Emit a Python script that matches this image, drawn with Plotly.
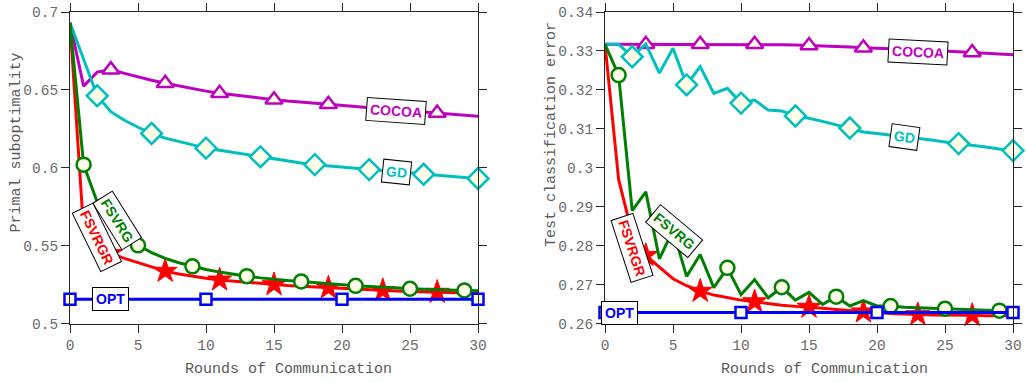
import plotly.graph_objects as go

# Communication rounds
rounds = list(range(31))

# Primal suboptimality per round
cocoa_primal = [0.6931, 0.6524, 0.6614, 0.6630, 0.6606, 0.6583, 0.6562, 0.6543, 0.6525, 0.6508,
                0.6492, 0.6478, 0.6467, 0.6456, 0.6446, 0.6437, 0.6428, 0.6420, 0.6414, 0.6408,
                0.6400, 0.6393, 0.6386, 0.6379, 0.6372, 0.6365, 0.6358, 0.6352, 0.6345, 0.6338, 0.6331]
gd_primal = [0.6931, 0.6700, 0.6462, 0.6360, 0.6305, 0.6260, 0.6220, 0.6190, 0.6168, 0.6145,
             0.6126, 0.6112, 0.6098, 0.6083, 0.6070, 0.6055, 0.6043, 0.6031, 0.6020, 0.6012,
             0.6004, 0.5996, 0.5988, 0.5980, 0.5972, 0.5965, 0.5958, 0.5950, 0.5943, 0.5937, 0.5931]
fsvrg_primal = [0.6931, 0.6020, 0.5780, 0.5640, 0.5560, 0.5502, 0.5455, 0.5418, 0.5390, 0.5367,
                0.5347, 0.5330, 0.5316, 0.5304, 0.5293, 0.5283, 0.5276, 0.5270, 0.5262, 0.5255,
                0.5248, 0.5242, 0.5237, 0.5232, 0.5227, 0.5223, 0.5220, 0.5217, 0.5214, 0.5212, 0.5210]
fsvrgr_primal = [0.6931, 0.5600, 0.5490, 0.5450, 0.5418, 0.5392, 0.5362, 0.5336, 0.5318, 0.5303,
                 0.5290, 0.5280, 0.5272, 0.5264, 0.5257, 0.5250, 0.5244, 0.5239, 0.5234, 0.5229,
                 0.5225, 0.5221, 0.5216, 0.5212, 0.5209, 0.5206, 0.5203, 0.5201, 0.5199, 0.5197, 0.5195]
opt_primal = [0.5155] * 31

# Test classification error per round
cocoa_test = [0.3317, 0.3317, 0.3317, 0.3317, 0.3317, 0.3317, 0.3317, 0.3317, 0.3317, 0.3317,
              0.3317, 0.3317, 0.3317, 0.3316, 0.3315, 0.3314, 0.3313, 0.3311, 0.3310, 0.3308,
              0.3307, 0.3306, 0.3304, 0.3303, 0.3301, 0.3300, 0.3298, 0.3296, 0.3294, 0.3292, 0.3290]
gd_test = [0.3317, 0.3317, 0.3285, 0.3318, 0.3243, 0.3307, 0.3213, 0.3260, 0.3191, 0.3204,
           0.3166, 0.3174, 0.3148, 0.3146, 0.3133, 0.3127, 0.3119, 0.3110, 0.3102, 0.3092,
           0.3088, 0.3084, 0.3080, 0.3076, 0.3071, 0.3066, 0.3062, 0.3057, 0.3053, 0.3048, 0.3044]
fsvrg_test = [0.3317, 0.3238, 0.2890, 0.2938, 0.2766, 0.2840, 0.2721, 0.2777, 0.2692, 0.2743,
              0.2674, 0.2713, 0.2666, 0.2693, 0.2660, 0.2680, 0.2649, 0.2669, 0.2645, 0.2659,
              0.2645, 0.2645, 0.2642, 0.2640, 0.2639, 0.2638, 0.2636, 0.2635, 0.2634, 0.2633, 0.2628]
fsvrgr_test = [0.3317, 0.2970, 0.2830, 0.2775, 0.2745, 0.2715, 0.2697, 0.2683, 0.2673, 0.2666,
               0.2660, 0.2656, 0.2651, 0.2647, 0.2644, 0.2642, 0.2639, 0.2636, 0.2633, 0.2630,
               0.2628, 0.2626, 0.2624, 0.2623, 0.2622, 0.2622, 0.2621, 0.2621, 0.2620, 0.2620, 0.2620]
opt_test = [0.2628] * 31

# Tick labels
x_ticks = [0, 5, 10, 15, 20, 25, 30]
primal_ticks = [0.5, 0.55, 0.6, 0.65, 0.7]
primal_ticktext = ["0.5", "0.55", "0.6", "0.65", "0.7"]
test_ticks = [0.26, 0.27, 0.28, 0.29, 0.30, 0.31, 0.32, 0.33, 0.34]
test_ticktext = ["0.26", "0.27", "0.28", "0.29", "0.3", "0.31", "0.32", "0.33", "0.34"]

W, H = 1026, 383
MONO = "Courier New, Liberation Mono, monospace"
SANS = "Liberation Sans, Arial, sans-serif"
AXIS = "#262626"
FACE = "#FFFFE8"

MAGENTA = "#BF00BF"
CYAN = "#00BFBF"
GREEN = "#007F00"
RED = "#FF0000"
BLUE = "#0000FF"

# series style: name -> (colour, symbol, marker size, first marker index, step)
styles = {
    "COCOA": (MAGENTA, "triangle-up", 15, 3, 4),
    "GD": (CYAN, "diamond", 16, 2, 4),
    "FSVRGR": (RED, "star", 18, 3, 4),
    "FSVRG": (GREEN, "circle", 14, 1, 4),
    "OPT": (BLUE, "square", 11, 0, 10),
}

panels = [
    ("x", "y", {"COCOA": cocoa_primal, "GD": gd_primal, "FSVRGR": fsvrgr_primal,
                "FSVRG": fsvrg_primal, "OPT": opt_primal}),
    ("x2", "y2", {"COCOA": cocoa_test, "GD": gd_test, "FSVRGR": fsvrgr_test,
                  "FSVRG": fsvrg_test, "OPT": opt_test}),
]

fig = go.Figure()
for xa, ya, series in panels:
    for name, vals in series.items():
        col, sym, msize, start, step = styles[name]
        fig.add_trace(go.Scatter(
            x=rounds, y=vals, mode="lines", line=dict(color=col, width=3),
            xaxis=xa, yaxis=ya, showlegend=False, cliponaxis=False, hoverinfo="skip"))
        mx = rounds[start::step]
        my = vals[start::step]
        face = col if name == "FSVRGR" else FACE
        fig.add_trace(go.Scatter(
            x=mx, y=my, mode="markers",
            marker=dict(symbol=sym, size=msize, color=face,
                        line=dict(color=col, width=2.5 if name != "FSVRGR" else 1)),
            xaxis=xa, yaxis=ya, showlegend=False, cliponaxis=False, name=name))

common_axis = dict(showline=True, linecolor=AXIS, linewidth=1, mirror="ticks",
                   ticks="outside", ticklen=8, tickcolor=AXIS, tickwidth=1,
                   showgrid=False, zeroline=False, automargin=False,
                   tickfont=dict(family=MONO, size=14.5, color="#6a6a6a"))

y0 = 1 - 323.5 / H
y1 = 1 - 12 / H
fig.update_layout(
    width=W, height=H, margin=dict(l=0, r=0, t=0, b=0),
    paper_bgcolor="white", plot_bgcolor="white",
    xaxis=dict(domain=[70 / W, 478 / W], range=[0, 30], tickvals=x_ticks, anchor="y", **common_axis),
    yaxis=dict(domain=[y0, y1], range=[0.5, 0.7], tickvals=primal_ticks,
               ticktext=primal_ticktext, anchor="x", **common_axis),
    xaxis2=dict(domain=[605 / W, 1013 / W], range=[0, 30], tickvals=x_ticks, anchor="y2", **common_axis),
    yaxis2=dict(domain=[y0, y1], range=[0.26, 0.34], tickvals=test_ticks,
                ticktext=test_ticktext, anchor="x2", **common_axis),
)

# axis titles
title_font = dict(family=MONO, size=15, color="#5a5a5a")
for text, x, y, ang in [
    ("Rounds of Communication", 288.5 / W, 1 - 369 / H, 0),
    ("Rounds of Communication", 824 / W, 1 - 369 / H, 0),
    ("Primal suboptimality", 15.5 / W, 1 - 143 / H, -90),
    ("Test classification error", 551 / W, 1 - 135 / H, -90),
]:
    fig.add_annotation(text=text, x=x, y=y, xref="paper", yref="paper",
                       xanchor="center", yanchor="middle", showarrow=False,
                       textangle=ang, font=title_font)

# inline series labels
labels = [
    ("x", "y", "COCOA", 24.0, 0.6363, 4, MAGENTA),
    ("x", "y", "GD", 24.0, 0.5970, 6, CYAN),
    ("x", "y", "FSVRG", 3.43, 0.5662, 58, GREEN),
    ("x", "y", "FSVRGR", 1.96, 0.5555, 64, RED),
    ("x", "y", "OPT", 3.0, 0.5155, 0, BLUE),
    ("x2", "y2", "COCOA", 23.0, 0.3297, 3, MAGENTA),
    ("x2", "y2", "GD", 22.0, 0.3080, 8, CYAN),
    ("x2", "y2", "FSVRG", 5.07, 0.2837, 40, GREEN),
    ("x2", "y2", "FSVRGR", 1.99, 0.2794, 72, RED),
    ("x2", "y2", "OPT", 1.03, 0.2628, 0, BLUE),
]
for xa, ya, text, x, y, ang, col in labels:
    fig.add_annotation(text=text, x=x, y=y, xref=xa, yref=ya, showarrow=False,
                       textangle=ang, bgcolor="white", bordercolor="black",
                       borderwidth=1, borderpad=3,
                       font=dict(family=SANS, size=14, color=col, weight="bold"))

fig.write_html("out.html")
